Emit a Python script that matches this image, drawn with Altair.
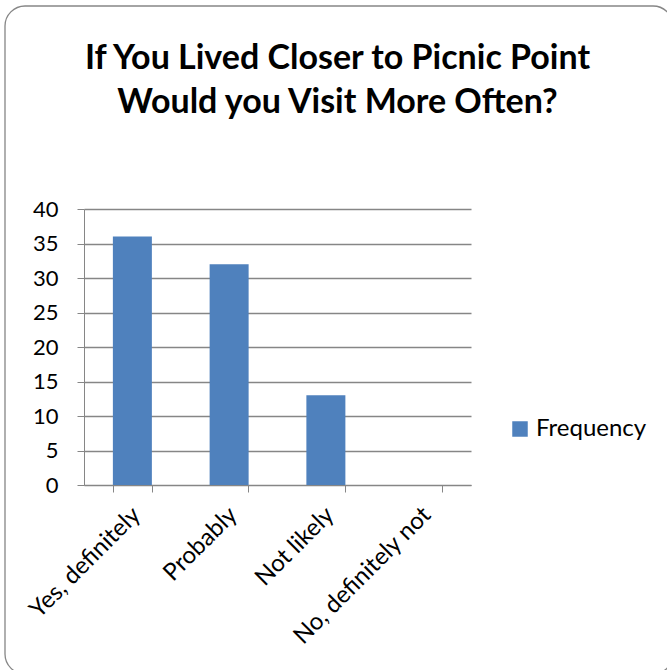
import altair as alt
import pandas as pd

# Survey answers and their counts
categories = ["Yes, definitely", "Probably", "Not likely", "No, definitely not"]
frequency = [36, 32, 13, 0]
series_name = "Frequency"
y_ticks = [0, 5, 10, 15, 20, 25, 30, 35, 40]

title_lines = ["If You Lived Closer to Picnic Point", "Would you Visit More Often?"]

BAR = "#4F81BD"
GRID = "#868686"
FONT = "Lato"

df = pd.DataFrame({"answer": categories, "count": frequency, "series": series_name})

PLOT_W, PLOT_H = 387, 276
PAD_L, PAD_T = 84, 209
PAD_R = 667 - PAD_L - PLOT_W
PAD_B = 670 - PAD_T - PLOT_H

# rounded frame around the whole chart, drawn in pixel space of the view
frame = alt.Chart(pd.DataFrame({"k": [0]})).mark_rect(
    fill="transparent", stroke=GRID, strokeWidth=1.3, cornerRadius=20
).encode(
    x=alt.value(5 - PAD_L),
    x2=alt.value(673 - PAD_L),
    y=alt.value(6 - PAD_T),
    y2=alt.value(674 - PAD_T),
)

bars = alt.Chart(df).mark_bar(size=39).encode(
    x=alt.X(
        "answer:N",
        sort=categories,
        scale=alt.Scale(paddingInner=0.6, paddingOuter=0.3),
        axis=alt.Axis(
            title=None,
            grid=False,
            tickBand="extent",
            tickSize=7,
            tickColor=GRID,
            domainColor=GRID,
            labelAngle=-45,
            labelAlign="right",
            labelBaseline="middle",
            labelPadding=19,
            labelOffset=4,
            labelLimit=400,
            labelFont=FONT,
            labelFontSize=24,
            labelColor="black",
        ),
    ),
    y=alt.Y(
        "count:Q",
        scale=alt.Scale(domain=[0, 40]),
        axis=alt.Axis(
            title=None,
            values=y_ticks,
            grid=True,
            gridColor=GRID,
            gridWidth=1.3,
            tickSize=7,
            tickColor=GRID,
            domainColor=GRID,
            labelPadding=19,
            labelFont=FONT,
            labelFontSize=22,
            labelColor="black",
        ),
    ),
    color=alt.Color(
        "series:N",
        scale=alt.Scale(range=[BAR]),
        legend=alt.Legend(
            title=None,
            orient="none",
            legendX=424,
            legendY=208,
            symbolType="square",
            symbolSize=240,
            symbolStrokeWidth=0,
            symbolOpacity=1,
            labelFont=FONT,
            labelFontSize=24,
            labelColor="black",
            labelOffset=4,
            labelLimit=400,
        ),
    ),
)

chart = alt.layer(frame, bars).properties(
    width=PLOT_W,
    height=PLOT_H,
    padding={"left": PAD_L, "top": PAD_T, "right": PAD_R, "bottom": PAD_B},
    autosize=alt.AutoSizeParams(type="none"),
    title=alt.TitleParams(
        text=title_lines,
        font=FONT,
        fontSize=34,
        fontWeight="bold",
        color="black",
        anchor="middle",
        frame="group",
        dx=60,
        lineHeight=44,
        offset=-115,
    ),
).configure_view(stroke=None)

chart.save("out.html", embed_options={"renderer": "svg", "actions": False})
